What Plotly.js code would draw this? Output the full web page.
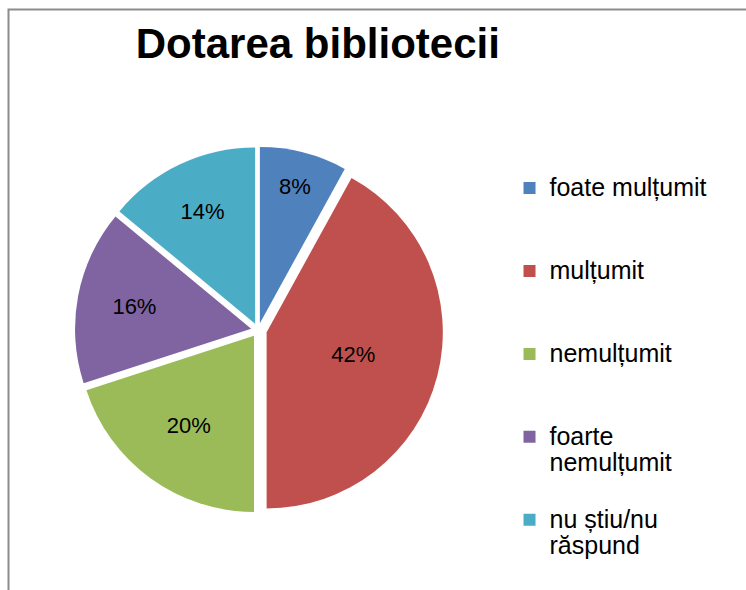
<!DOCTYPE html>
<html>
<head>
<meta charset="utf-8">
<script src="https://cdn.plot.ly/plotly-3.0.1.min.js"></script>
<style>html,body{margin:0;padding:0;background:#fff;}#chart{width:746px;height:590px;}</style>
</head>
<body>
<div id="chart"></div>
<script>
const categories = ["foate mulțumit", "mulțumit", "nemulțumit", "foarte<br>nemulțumit", "nu știu/nu<br>răspund"];
const values = [8, 42, 20, 16, 14];
const colors = ["#4F81BD", "#C0504D", "#9BBB59", "#8064A2", "#4BACC6"];
const pulls = [0.04, 0.05, 0.04, 0.04, 0.04];

// legend entries: larger text, padded to three lines so entries are evenly spaced
const legendLabels = categories.map(c => {
  const lines = c.split("<br>");
  while (lines.length < 3) lines.push(" ");
  return lines.map(l => '<span style="font-size:25px">' + l + '</span>').join("<br>");
});

const trace = {
  type: "pie",
  labels: legendLabels,
  values: values,
  sort: false,
  direction: "clockwise",
  rotation: 0,
  pull: pulls,
  marker: {colors: colors, line: {color: "#ffffff", width: 0}},
  textinfo: "percent",
  texttemplate: "%{value}%",
  textposition: "inside",
  insidetextorientation: "horizontal",
  textfont: {family: "Liberation Sans, Arial, sans-serif", size: 22, color: "#000000"},
  hoverinfo: "label+percent",
  domain: {x: [0.098, 0.594], y: [0.127, 0.754]}
};

const layout = {
  width: 746,
  height: 590,
  margin: {l: 0, r: 0, t: 0, b: 0, autoexpand: false},
  paper_bgcolor: "#ffffff",
  title: {
    text: "<b>Dotarea bibliotecii</b>",
    x: 0.426, xanchor: "center",
    y: 0.927, yanchor: "middle",
    font: {family: "Liberation Sans, Arial, sans-serif", size: 42, color: "#000000"}
  },
  showlegend: true,
  legend: {
    x: 0.683, xanchor: "left",
    y: 0.715, yanchor: "top",
    valign: "top",
    bgcolor: "rgba(0,0,0,0)",
    font: {family: "Liberation Sans, Arial, sans-serif", size: 20.5, color: "#000000"},
    itemwidth: 30
  },
  shapes: [{
    type: "rect", xref: "paper", yref: "paper",
    x0: 8.5/746, x1: 1.1, y0: 1 - 9.5/590, y1: -0.1,
    line: {color: "#8c8c8c", width: 2}, fillcolor: "rgba(0,0,0,0)"
  }]
};

Plotly.newPlot("chart", [trace], layout, {displayModeBar: false, staticPlot: true});
</script>
</body>
</html>
